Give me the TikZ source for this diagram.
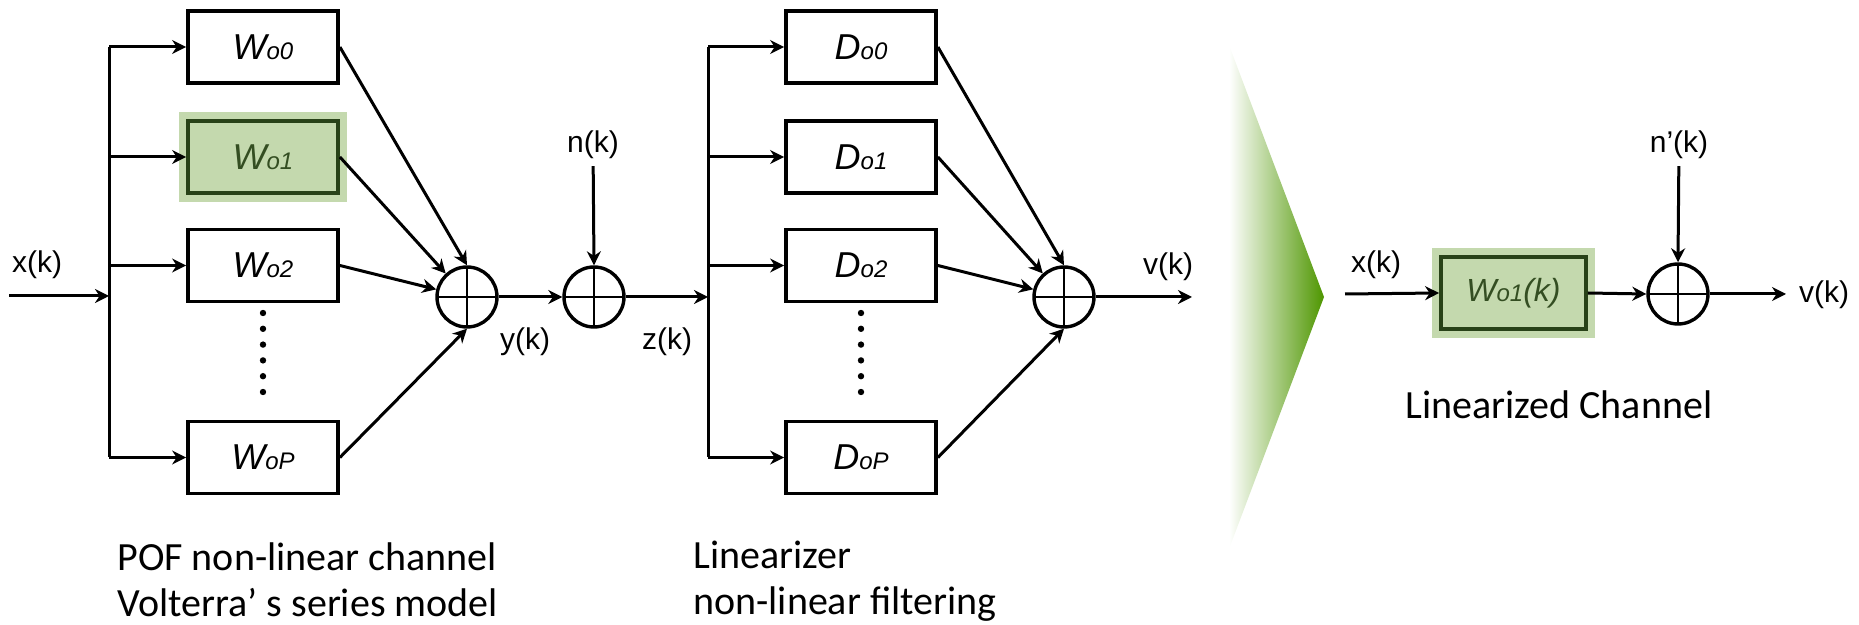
\documentclass[tikz,border=0pt]{standalone}
\usepackage{fontspec}
\setmainfont{Liberation Sans}
\newfontfamily\notefont{Carlito}
\usetikzlibrary{positioning, arrows.meta, calc}

\definecolor{halogreen}{RGB}{196,217,174}
\definecolor{edgegreen}{RGB}{40,66,24}
\definecolor{textgreen}{RGB}{52,78,34}
\definecolor{chevgreen}{RGB}{78,150,0}

\newcommand{\subidx}[1]{{\fontsize{12}{13}\selectfont #1}}

\begin{document}
\begin{tikzpicture}[x=0.5pt, y=-0.5pt, every node/.style={font=\fontsize{15}{18}\selectfont}]
  \def\WX{263}
  \def\DX{861}
  \def\MID{297}
  \tikzset{
    line/.style={line width=1.5pt},
    arr/.style={line width=1.5pt, -{Stealth[length=7pt, width=7pt]}},
    block/.style={draw, line width=1.9pt, minimum width=75pt, minimum height=36pt, inner sep=0pt,
      font=\fontsize{18}{20}\selectfont\itshape},
    hiblock/.style={block, fill=halogreen, draw=edgegreen, text=textgreen,
      preaction={draw=halogreen, line width=9pt}},
    adder/.style={circle, draw, line width=1.7pt, minimum size=30pt, inner sep=0pt,
      path picture={\draw[line width=1.4pt]
        (path picture bounding box.north) -- (path picture bounding box.south)
        (path picture bounding box.west) -- (path picture bounding box.east);}},
    note/.style={font=\notefont\fontsize{20}{23}\selectfont, align=left, anchor=west, inner sep=0pt},
  }
  \useasboundingbox (0,0) rectangle (1859,625);

  %% ===== Volterra channel =====
  \node[block]   (W0) at (\WX,47)    {W\subidx{o0}};
  \node[hiblock] (W1) at (\WX,157)   {W\subidx{o1}};
  \node[block]   (W2) at (\WX,265.5) {W\subidx{o2}};
  \node[block]   (WP) at (\WX,457.5) {W\subidx{oP}};
  \foreach \k in {0,...,5} \fill (\WX,313+15.8*\k) circle (1.6pt);

  \coordinate (xstart) at (9,296);
  \coordinate (bus1) at (109,296);
  \node (xlab) at (37,265) {x(k)};
  \draw[arr] (xstart) -- (bus1);
  \draw[line] (W0.west -| bus1) -- (WP.west -| bus1);
  \foreach \n in {W0,W1,W2,WP} \draw[arr] (\n.west -| bus1) -- (\n.west);

  \node[adder] (s1) at (467,\MID) {};
  \draw[arr] (W0.east) -- (s1.north);
  \draw[arr] (W1.east) -- (s1);
  \draw[arr] (W2.east) -- (s1);
  \draw[arr] (WP.east) -- (s1.south);

  % noise
  \node[adder] (s2) at (594,\MID) {};
  \node (nlab) at (593,145) {n(k)};
  \draw[arr] (nlab) -- (s2.north);
  \draw[arr] (s1.east) -- (s2.west);
  \node (ylab) at (525,342) {y(k)};
  \node (zlab) at (667,342) {z(k)};

  %% ===== Linearizer =====
  \node[block] (D0) at (\DX,47)    {D\subidx{o0}};
  \node[block] (D1) at (\DX,157)   {D\subidx{o1}};
  \node[block] (D2) at (\DX,265.5) {D\subidx{o2}};
  \node[block] (DP) at (\DX,457.5) {D\subidx{oP}};
  \foreach \k in {0,...,5} \fill (\DX,313+15.8*\k) circle (1.6pt);

  \coordinate (bus2) at (708,\MID);
  \draw[arr] (s2.east) -- (bus2);
  \draw[line] (D0.west -| bus2) -- (DP.west -| bus2);
  \foreach \n in {D0,D1,D2,DP} \draw[arr] (\n.west -| bus2) -- (\n.west);

  \node[adder] (s3) at (1064,\MID) {};
  \draw[arr] (D0.east) -- (s3.north);
  \draw[arr] (D1.east) -- (s3);
  \draw[arr] (D2.east) -- (s3);
  \draw[arr] (DP.east) -- (s3.south);
  \coordinate (vend) at (1192,\MID);
  \draw[arr] (s3.east) -- (vend);
  \node (vlab) at (1168,267) {v(k)};

  % big arrow
  \shade[left color=white, right color=chevgreen] (1229,45) -- (1324,297) -- (1229,549) -- cycle;

  %% ===== Linearized channel =====
  \node[hiblock, minimum width=72.5pt, font=\fontsize{16}{18}\selectfont\itshape] (G) at (1513.5,293) {W\subidx{o1}(k)};
  \coordinate (xstart2) at (1345,294);
  \node (xlab2) at (1376,265) {x(k)};
  \draw[arr] (xstart2) -- (G.west);
  \node[adder] (s4) at (1678,294) {};
  \draw[arr] (G.east) -- (s4.west);
  \node (nlab2) at (1679,145) {n’(k)};
  \draw[arr] (nlab2) -- (s4.north);
  \coordinate (vend2) at (1786,294);
  \draw[arr] (s4.east) -- (vend2);
  \node (vlab2) at (1824,295) {v(k)};

  %% ===== captions =====
  \node[note] (capA) at (117,580) {POF non-linear channel\\Volterra’ s series model};
  \node[note] (capB) at (693,581) {Linearizer\\non-linear filtering};
  \node[note, anchor=center, align=center] (capC) at (1559,405) {Linearized Channel};
\end{tikzpicture}
\end{document}
